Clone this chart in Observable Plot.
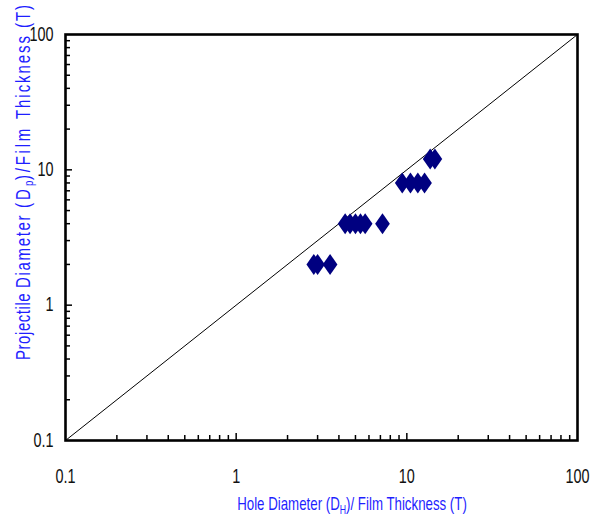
<!DOCTYPE html>
<html>
<head>
<meta charset="utf-8">
<script src="https://cdn.jsdelivr.net/npm/d3@7"></script>
<script src="https://cdn.jsdelivr.net/npm/@observablehq/plot@0.6"></script>
<style>
  html, body { margin: 0; padding: 0; background: #fff; }
  #chart { width: 600px; height: 518px; }
  svg { font-family: "Liberation Sans", Arial, sans-serif; }
</style>
</head>
<body>
<div id="chart"></div>
<script>
// Data
const holeRatio = [2.85, 3.0, 3.55, 4.35, 4.65, 5.0, 5.35, 5.7, 7.2, 9.4, 10.5, 11.6, 12.7, 13.7, 14.6];
const projRatio = [2, 2, 2, 4, 4, 4, 4, 4, 4, 8, 8, 8, 8, 12, 12];
const majorTicks = [0.1, 1, 10, 100];
const tickLabels = ["0.1", "1", "10", "100"];
const minorTicks = [0.2,0.3,0.4,0.5,0.6,0.7,0.8,0.9,2,3,4,5,6,7,8,9,20,30,40,50,60,70,80,90];
const diagonal = [{x: 0.1, y: 0.1}, {x: 100, y: 100}];

const points = holeRatio.map((x, i) => ({x, y: projRatio[i]}));
const labels = majorTicks.map((v, i) => ({v, t: tickLabels[i]}));

const tallDiamond = {
  draw(ctx, size) {
    const r = Math.sqrt(size / Math.PI);
    const w = r * 0.7;
    ctx.moveTo(0, -r);
    ctx.lineTo(w, 0);
    ctx.lineTo(0, r);
    ctx.lineTo(-w, 0);
    ctx.closePath();
  }
};

const font = "Liberation Sans, Arial, sans-serif";

const plot = Plot.plot({
  width: 600,
  height: 518,
  marginLeft: 65,
  marginRight: 23,
  marginTop: 34,
  marginBottom: 78,
  style: {fontFamily: font, background: "white"},
  x: {type: "log", domain: [0.1, 100]},
  y: {type: "log", domain: [0.1, 100]},
  marks: [
    Plot.line(diagonal, {x: "x", y: "y", stroke: "black", strokeWidth: 1}),
    Plot.dot(points, {x: "x", y: "y", symbol: tallDiamond, r: 10.5, fill: "#000080", stroke: "none"}),
    // inward ticks
    Plot.axisX({ticks: minorTicks, tickSize: -5, tickFormat: () => "", strokeWidth: 1.5}),
    Plot.axisX({ticks: [1, 10], tickSize: -7, tickFormat: () => "", strokeWidth: 1.5}),
    Plot.axisY({ticks: minorTicks, tickSize: -5, tickFormat: () => "", strokeWidth: 1.5}),
    Plot.axisY({ticks: [1, 10], tickSize: -7, tickFormat: () => "", strokeWidth: 1.5}),
    // tick labels
    Plot.text(labels, {x: "v", text: "t", frameAnchor: "bottom", dy: 36, textAnchor: "middle", lineAnchor: "middle", fontSize: 19.5, fill: "#111"}),
    Plot.text(labels, {y: "v", text: "t", frameAnchor: "left", dx: -12, textAnchor: "end", lineAnchor: "middle", fontSize: 19.5, fill: "#111"}),
    Plot.frame({stroke: "black", strokeWidth: 2.6})
  ]
});

document.getElementById("chart").appendChild(plot);

const svg = d3.select(plot);

// compress tick-label glyphs horizontally (narrow face look)
svg.selectAll('g[aria-label="text"] text').each(function() {
  const t = this.getAttribute("transform") || "";
  this.setAttribute("transform", t + " scale(0.74,1)");
});

const blue = "#1f1fff";

// x axis title with subscript
const xt = svg.append("text")
  .attr("text-anchor", "middle")
  .attr("fill", blue)
  .attr("font-size", 19)
  .attr("font-family", font);
xt.append("tspan").text("Hole Diameter (D");
xt.append("tspan").text("H").attr("font-size", 12.5).attr("dy", 4);
xt.append("tspan").text(")/ Film Thickness (T)").attr("dy", -4);
{
  const len = xt.node().getComputedTextLength();
  const s = 230 / len;
  xt.attr("transform", `translate(352,510) scale(${s},1)`);
}

// y axis title: one rotated text; spacing per piece follows the reference
const yPieces = [
  // [text, span along the axis (px), font size, baseline shift]
  ["Projectile ", 72, 20, 0],
  ["Diameter ", 80, 20, 0],
  ["(D", 22, 20, 0],
  ["p", 6, 13, 3],
  [")/Film ", 61, 20, -3],
  ["Thickness (T)", 116, 20, 0]
];
const g = 0.75;
const yt = svg.append("text")
  .attr("fill", blue)
  .attr("font-family", font)
  .attr("font-size", 20)
  .attr("text-anchor", "start")
  .attr("transform", `translate(30,360) rotate(-90) scale(${g},1)`);
for (const [txt, span, fs, shift] of yPieces) {
  const ts = yt.append("tspan").attr("font-size", fs).text(txt);
  if (shift) ts.attr("dy", shift);
  const natural = ts.node().getComputedTextLength();
  const n = txt.length;
  const spacing = (span / g - natural) / n;
  ts.attr("letter-spacing", spacing);
}
</script>
</body>
</html>
